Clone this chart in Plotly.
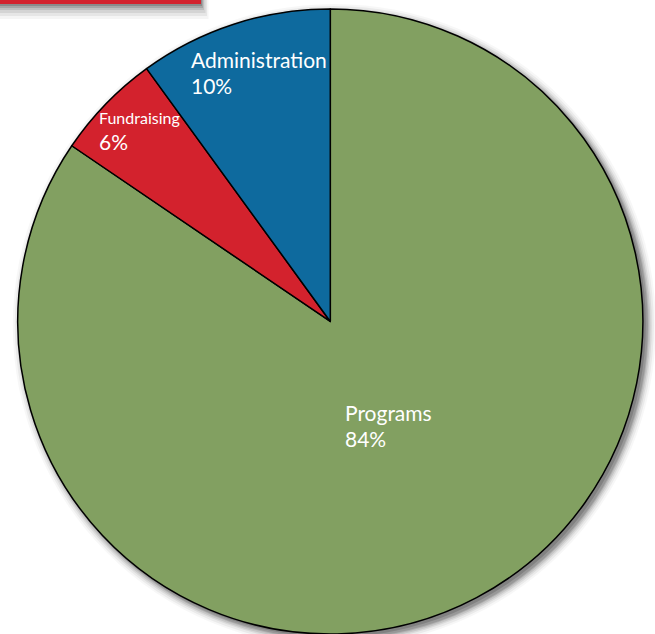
import math
import plotly.graph_objects as go

# ---- data ----
categories = ["Programs", "Fundraising", "Administration"]
values = [84.5, 5.5, 10.0]
percent_labels = ["84%", "6%", "10%"]
colors = ["#82a061", "#d3222d", "#0e6a9e"]

# ---- styling / layout params ----
W, H = 655, 634
label_sizes = [21, 16, 21]
pct_sizes = [21, 21, 21]
label_radius = [0.386, 0.864, 0.82]
label_shift = [(2, -2.5), (3.5, -2.5), (8, -5.5)]  # px nudges (x right, y down)
dom_x = [17.3 / W, 643.3 / W]
dom_y = [0.0, 0.986]

fig = go.Figure(go.Pie(
    labels=categories, values=values, sort=False, direction="clockwise",
    rotation=0, textinfo="none", hoverinfo="label+percent",
    marker=dict(colors=colors, line=dict(color="black", width=1.5)),
    domain=dict(x=dom_x, y=dom_y), showlegend=False,
))

# pie geometry in pixels (mirrors plotly's pie sizing)
R = min((dom_x[1] - dom_x[0]) * W, (dom_y[1] - dom_y[0]) * H) / 2
cx = (dom_x[0] + dom_x[1]) / 2 * W
cy = H - (dom_y[0] + dom_y[1]) / 2 * H  # from top

shapes = []
# soft drop shadow behind pie
for off, grow, op in [(4, 9, 0.03), (4, 7, 0.05), (4, 5, 0.07), (4, 3.5, 0.09),
                      (4, 2, 0.11), (4, 1, 0.13), (3, 0, 0.15)]:
    x0 = cx - R - grow + off
    x1 = cx + R + grow + off
    y0 = cy - R - grow + off
    y1 = cy + R + grow + off
    shapes.append(dict(type="circle", xref="paper", yref="paper",
                       x0=x0 / W, x1=x1 / W, y0=1 - y1 / H, y1=1 - y0 / H,
                       fillcolor=f"rgba(0,0,0,{op})", line=dict(width=0), layer="below"))

# red header bar with shadow
for off, op in [(15, 0.04), (12, 0.06), (9, 0.08), (6, 0.1), (4, 0.13), (2, 0.16)]:
    shapes.append(dict(type="rect", xref="paper", yref="paper",
                       x0=0, x1=(201 + off * 0.5) / W, y0=1 - (4 + off) / H, y1=1,
                       fillcolor=f"rgba(0,0,0,{op})", line=dict(width=0), layer="below"))
shapes.append(dict(type="rect", xref="paper", yref="paper",
                   x0=0, x1=201 / W, y0=1 - 4 / H, y1=1,
                   fillcolor="#d3222d", line=dict(width=0), layer="above"))

# labels placed along each slice's mid-angle
total = sum(values)
annotations = []
cum = 0.0
for cat, v, pl, ls, ps, rf, (sx, sy) in zip(categories, values, percent_labels, label_sizes,
                                            pct_sizes, label_radius, label_shift):
    mid = (cum + v / 2) / total * 2 * math.pi
    cum += v
    px = cx + rf * R * math.sin(mid) + sx
    py = cy - rf * R * math.cos(mid) + sy
    text = f"<span style='font-size:{ls}px'>{cat}</span><br><span style='font-size:{ps}px'>{pl}</span>"
    annotations.append(dict(x=px / W, y=1 - py / H, xref="paper", yref="paper",
                            text=text, showarrow=False, align="left",
                            xanchor="center", yanchor="middle",
                            font=dict(family="Lato", size=20, color="white")))

fig.update_layout(
    width=W, height=H, margin=dict(l=0, r=0, t=0, b=0),
    paper_bgcolor="white", plot_bgcolor="white",
    shapes=shapes, annotations=annotations,
)

fig.write_html("out.html", config={"displayModeBar": False},
               post_script="document.body.style.margin='0';")
